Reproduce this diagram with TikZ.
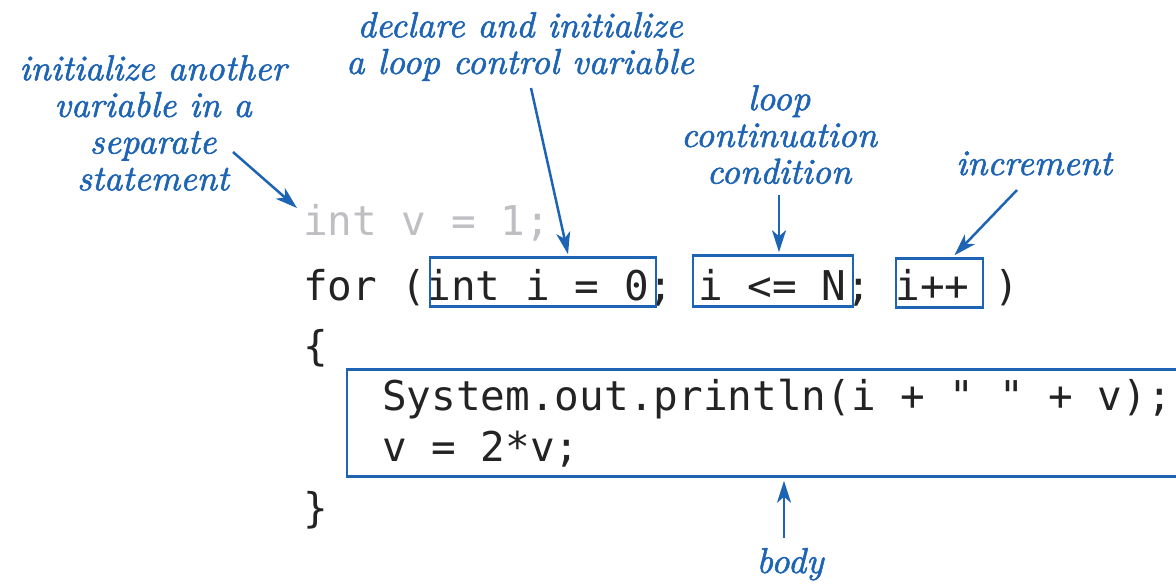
\documentclass[tikz,border=0pt]{standalone}
\usepackage{fontspec}
\newfontfamily\codefont{DejaVu Sans Mono}
\newfontfamily\notefont{lmroman10-italic.otf}[FakeBold=1.6]
\usetikzlibrary{arrows.meta,calc}
\definecolor{noteblue}{RGB}{30,100,180}
\definecolor{codeink}{RGB}{35,35,35}
\definecolor{dimcode}{RGB}{190,190,195}
\tikzset{
  code/.style={font=\codefont\fontsize{41}{50}\selectfont, text=codeink,
    anchor=base west, inner sep=0pt},
  dimmed/.style={code, text=dimcode},
  note/.style={font=\notefont\fontsize{36}{36.7}\selectfont, text=noteblue,
    align=center, inner sep=0pt},
  hl/.style={draw=noteblue, line width=2.5pt, inner sep=0pt},
  pointer/.style={draw=noteblue, line width=2.5pt,
    -{Stealth[length=22pt,width=14pt,inset=6pt]}}
}
\begin{document}
\begin{tikzpicture}[x=1pt,y=-1pt]
  \useasboundingbox (0,0) rectangle (1176,584);

  % program text
  \node[dimmed] (vdecl) at (303,235) {int v = 1;};
  \node[code] (forline) at (303,300) {for (int i = 0; i <= N;  i++ )};
  \node[code] (open) at (303,360) {\{};
  \node[code] (stmt1) at (382,410) {System.out.println(i + " " + v);};
  \node[code] (stmt2) at (382,461) {v = 2*v;};
  \node[code] (close) at (303,522) {\}};

  % highlighted parts of the loop
  \node[hl, minimum width=226, minimum height=49] (init) at (543,282) {};
  \node[hl, minimum width=160, minimum height=51] (cond) at (773,281) {};
  \node[hl, minimum width=87,  minimum height=49] (incr) at (939.5,283) {};
  \node[hl, minimum width=853, minimum height=107] (body) at (773.5,423) {};

  % annotations
  \node[note, anchor=north] (nother) at (153,55)
    {initialize another\\variable in a\\separate\\statement};
  \node[note, anchor=north] (ndecl) at (520,12)
    {declare and initialize\\a loop control variable};
  \node[note, anchor=north] (ncond) at (779,85)
    {loop\\continuation\\condition};
  \node[note, anchor=base] (nincr) at (1034,175) {increment};
  \node[note, anchor=base] (nbody) at (790,573) {body};

  % arrow tails under the annotations
  \coordinate (t-other) at (233,152);
  \coordinate (h-other) at (297,208);
  \coordinate (t-decl)  at (531,88);
  \coordinate (t-cond)  at (779,195);
  \coordinate (t-incr)  at (1017,190);
  \coordinate (t-body)  at (784,538);

  \draw[pointer] (t-other) -- (h-other);
  \draw[pointer] (t-decl) -- ($(init.north)+(25,-2)$);
  \draw[pointer] (t-cond) -- ($(cond.north)+(6,-2)$);
  \draw[pointer] (t-incr) -- ($(incr.north)+(15,-2)$);
  \draw[pointer] (t-body) -- ($(body.south -| t-body)+(0,3)$);
\end{tikzpicture}
\end{document}
